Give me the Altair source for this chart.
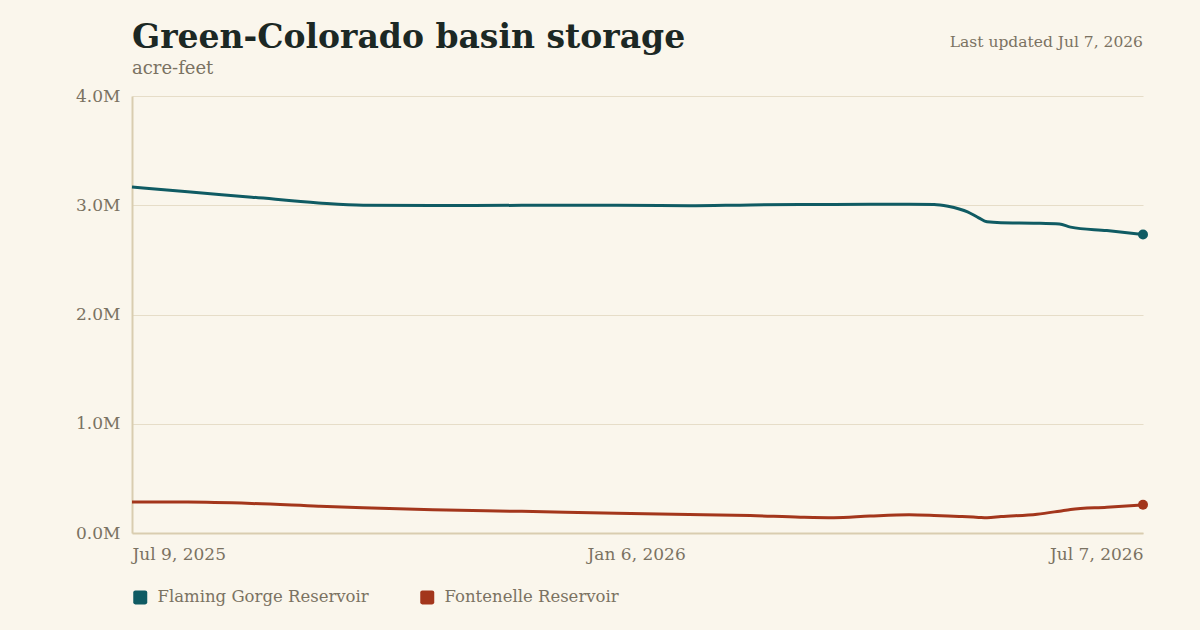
import altair as alt
import pandas as pd

# Reading dates shared by both reservoirs
dates = [
    "2025-07-09", "2025-07-29", "2025-08-21", "2025-09-14", "2025-09-30",
    "2025-10-25", "2025-11-26", "2025-12-30", "2026-01-25", "2026-02-16",
    "2026-03-06", "2026-03-18", "2026-03-31", "2026-04-14", "2026-04-23",
    "2026-04-28", "2026-05-02", "2026-05-05", "2026-05-09", "2026-05-12",
    "2026-05-17", "2026-05-30", "2026-06-07", "2026-06-11", "2026-06-24",
    "2026-07-07",
]

# Storage, acre-feet
flaming_gorge = [
    3167000, 3123000, 3074000, 3021000, 3000000,
    2998000, 2999000, 2999000, 2996000, 3003000,
    3006000, 3008000, 3009000, 3010000, 3007000,
    2990000, 2966000, 2940000, 2885000, 2848000,
    2840000, 2836000, 2828000, 2800000, 2768000,
    2733000,
]
fontenelle = [
    284000, 283000, 270000, 245000, 230000,
    212000, 198000, 180000, 170000, 160000,
    145000, 140000, 155000, 166000, 160000,
    155000, 151000, 148000, 143000, 140000,
    150000, 172000, 200000, 215000, 236000,
    258000,
]

reservoirs = ["Flaming Gorge Reservoir", "Fontenelle Reservoir"]
colors = ["#0F5B63", "#A3361C"]
y_ticks = [0, 1000000, 2000000, 3000000, 4000000]
title_text = "Green-Colorado basin storage"
subtitle_text = "acre-feet"
updated_text = "Last updated Jul 7, 2026"

SERIF = "DejaVu Serif"
MUTED = "#7A7262"

rows = []
for name, series in zip(reservoirs, [flaming_gorge, fontenelle]):
    for d, v in zip(dates, series):
        rows.append({"date": d, "reservoir": name, "storage": v})
df = pd.DataFrame(rows)
# Latest reading per reservoir, keyed separately so it carries its own legend
last = df[df["date"] == dates[-1]].rename(columns={"reservoir": "latest"})

start = alt.DateTime(year=2025, month=7, date=9, utc=True)
mid = alt.DateTime(year=2026, month=1, date=6, utc=True)
end = alt.DateTime(year=2026, month=7, date=7, utc=True)

x_enc = alt.X(
    "date:T",
    scale=alt.Scale(type="utc", domain=[start, end], nice=False),
    axis=alt.Axis(
        values=[start, mid, end],
        format="%b %-d, %Y",
        labelFlush=True,
        grid=False,
        ticks=False,
        tickSize=0,
        labelPadding=13,
        labelBaseline="top",
        domainColor="#D9CDB0",
        domainWidth=2,
        title=None,
    ),
)
y_enc = alt.Y(
    "storage:Q",
    scale=alt.Scale(domain=[0, 4000000], nice=False),
    axis=alt.Axis(
        values=y_ticks,
        labelExpr="format(datum.value / 1000000, '.1f') + 'M'",
        grid=True,
        gridColor="#E6DDC8",
        gridWidth=1,
        ticks=False,
        tickSize=0,
        labelPadding=12,
        domainColor="#D9CDB0",
        domainWidth=2,
        title=None,
    ),
)

lines = alt.Chart(df).mark_line(strokeWidth=3, interpolate="monotone").encode(
    x=x_enc,
    y=y_enc,
    stroke=alt.Stroke(
        "reservoir:N",
        scale=alt.Scale(domain=reservoirs, range=colors),
        legend=None,
    ),
)

rounded_square = (
    "M -0.7 -1 L 0.7 -1 Q 1 -1 1 -0.7 L 1 0.7 Q 1 1 0.7 1 "
    "L -0.7 1 Q -1 1 -1 0.7 L -1 -0.7 Q -1 -1 -0.7 -1 Z"
)

dots = alt.Chart(last).mark_point(filled=True, size=100, opacity=1).encode(
    x=x_enc,
    y=y_enc,
    fill=alt.Fill(
        "latest:N",
        scale=alt.Scale(domain=reservoirs, range=colors),
        legend=alt.Legend(
            title=None,
            orient="none",
            legendX=0,
            legendY=493,
            direction="horizontal",
            symbolType=rounded_square,
            symbolSize=196,
            symbolStrokeWidth=0,
            symbolOpacity=1,
            labelFont=SERIF,
            labelFontSize=16.5,
            labelColor=MUTED,
            labelLimit=0,
            labelOffset=9,
            columnPadding=50,
        ),
    ),
)

note = alt.Chart(pd.DataFrame({"note": [updated_text]})).mark_text(
    align="right", baseline="alphabetic", font=SERIF, fontSize=15.5, color=MUTED
).encode(
    x=alt.value(1011),
    y=alt.value(-49),
    text="note:N",
)

chart = (
    alt.layer(lines, dots, note)
    .resolve_scale(fill="independent", stroke="independent")
    .properties(
        width=1011,
        height=437,
        autosize=alt.AutoSizeParams(type="none"),
        padding={"left": 132, "top": 96, "right": 57, "bottom": 97},
        background="#FAF6EC",
        title=alt.TitleParams(
            text=title_text,
            subtitle=subtitle_text,
            anchor="start",
            frame="group",
            font=SERIF,
            fontSize=33,
            fontWeight="bold",
            color="#1C2824",
            subtitleFont=SERIF,
            subtitleFontSize=18,
            subtitleColor=MUTED,
            subtitlePadding=5,
            offset=12,
            dy=55,
        ),
    )
    .configure_view(stroke=None)
    .configure_axis(labelFont=SERIF, labelFontSize=17, labelColor=MUTED)
)

chart.save("out.html", embed_options={"renderer": "svg", "actions": False})
